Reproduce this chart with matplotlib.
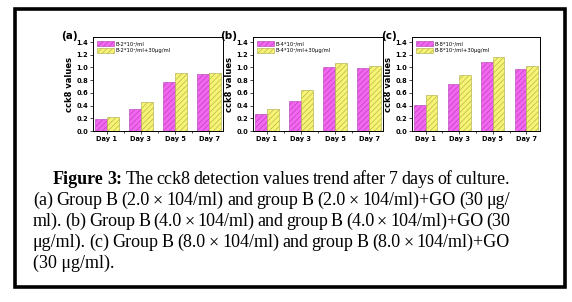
import matplotlib.pyplot as plt
from matplotlib.patches import Rectangle
import numpy as np

days = ['Day 1', 'Day 3', 'Day 5', 'Day 7']
tags = ['(a)', '(b)', '(c)']
ctrl_labels = ['B-2*10⁴/ml', 'B-4*10⁴/ml', 'B-8*10⁴/ml']
go_labels = ['B-2*10⁴/ml+30μg/ml', 'B-4*10⁴/ml+30μg/ml', 'B-8*10⁴/ml+30μg/ml']

ctrl_a = [0.19, 0.35, 0.77, 0.89]
go_a = [0.22, 0.45, 0.92, 0.92]
ctrl_b = [0.27, 0.48, 1.01, 0.99]
go_b = [0.35, 0.65, 1.07, 1.02]
ctrl_c = [0.41, 0.74, 1.09, 0.97]
go_c = [0.56, 0.88, 1.17, 1.02]

caption = [
    ("Figure 3:", "The cck8 detection values trend after 7 days of culture."),
    (None, "(a) Group B (2.0 × 104/ml) and group B (2.0 × 104/ml)+GO (30 μg/"),
    (None, "ml). (b) Group B (4.0 × 104/ml) and group B (4.0 × 104/ml)+GO (30"),
    (None, "μg/ml). (c) Group B (8.0 × 104/ml) and group B (8.0 × 104/ml)+GO"),
    (None, "(30 μg/ml)."),
]

W, H = 572, 302
fig = plt.figure(figsize=(W / 100, H / 100), dpi=100)
plt.rcParams['hatch.linewidth'] = 0.4

# outer frame
fig.patches.append(Rectangle((14.5 / W, 1 - 287 / H), 550 / W, 278 / H,
                             transform=fig.transFigure, fill=False,
                             edgecolor='black', linewidth=2.6))

panels = [(93, 130, ctrl_a, go_a), (253, 130, ctrl_b, go_b), (412, 128, ctrl_c, go_c)]
x = np.arange(len(days))
bw = 0.35
yt = np.arange(0, 1.41, 0.2)
for i, (left, width, ctrl, go) in enumerate(panels):
    ax = fig.add_axes([left / W, 1 - 131 / H, width / W, 94 / H])
    ax.bar(x - bw / 2, ctrl, bw, color='#F266F0', edgecolor='#B03CB0',
           hatch='//////', linewidth=0.4, label=ctrl_labels[i])
    ax.bar(x + bw / 2, go, bw, color='#F7F373', edgecolor='#A8A84A',
           hatch='//////', linewidth=0.4, label=go_labels[i])
    ax.set_xlim(-0.41, 3.41)
    ax.set_ylim(0, 1.48)
    ax.set_yticks(yt)
    ax.set_yticklabels([f'{v:.1f}' for v in yt], fontweight='bold')
    ax.set_xticks(x)
    ax.set_xticks([0.5, 1.5, 2.5], minor=True)
    ax.set_xticklabels(days, fontweight='bold')
    ax.tick_params(labelsize=4.8, length=2, width=0.5, pad=1.5)
    ax.tick_params(axis='x', which='minor', length=1.5, width=0.5)
    for s in ax.spines.values():
        s.set_linewidth(0.7)
    ax.set_ylabel('cck8 values', fontsize=6, fontweight='bold', labelpad=2)
    ax.text(-0.12, 1.01, tags[i], transform=ax.transAxes, ha='right',
            va='center', fontsize=7.5, fontweight='bold')
    ax.legend(loc='upper left', fontsize=3.8, frameon=False, handlelength=3.2,
              handleheight=1.2, borderaxespad=0.3, labelspacing=0.3,
              handletextpad=0.4)

# caption, justified
fig.canvas.draw()
r = fig.canvas.get_renderer()
left_px, right_px = 33, 510
baselines = [184, 205, 226, 247, 268]
serif = 'Liberation Serif'
fs = 13
for n, (bold, line) in enumerate(caption):
    y = 1 - baselines[n] / H
    if n == len(caption) - 1:
        fig.text(left_px / W, y, line, family=serif, fontsize=fs, va='baseline')
        continue
    start = 53 if n == 0 else left_px
    words = []
    if bold:
        words += [(w, 'bold') for w in bold.split()]
    words += [(w, 'normal') for w in line.split()]
    texts = [fig.text(0, y, w, family=serif, fontsize=fs, fontweight=fw,
                      va='baseline') for w, fw in words]
    widths = [t.get_window_extent(r).width for t in texts]
    gap = (right_px - start - sum(widths)) / (len(texts) - 1)
    xp = start
    for t, w in zip(texts, widths):
        t.set_x(xp / W)
        xp += w + gap

fig.savefig('out.png', dpi=100)
